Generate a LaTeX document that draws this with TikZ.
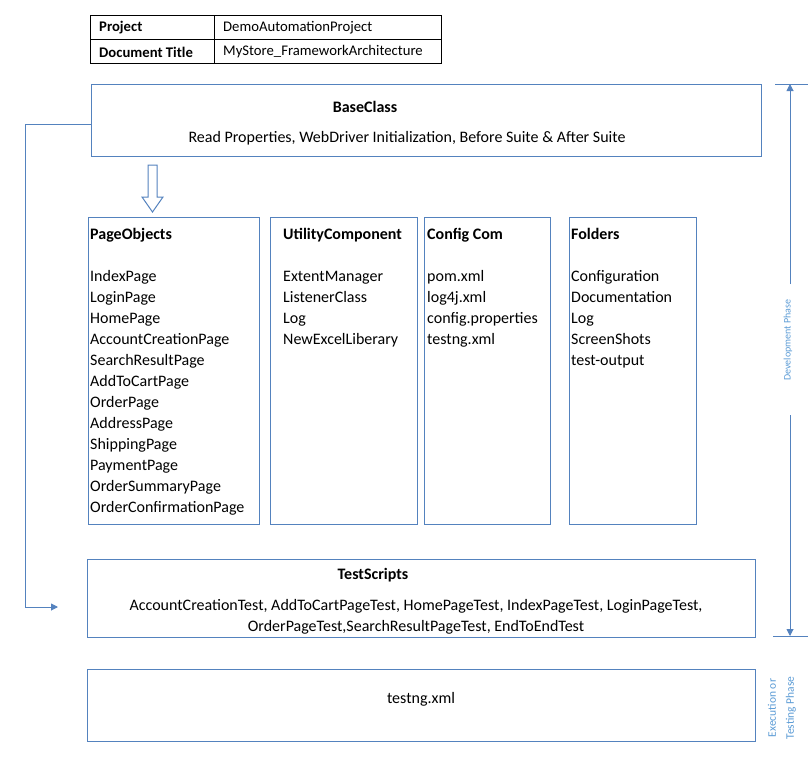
\documentclass[tikz,border=0pt]{standalone}
\usepackage{fontspec}
\setmainfont{Carlito}
\usetikzlibrary{arrows.meta}
\definecolor{boxblue}{RGB}{84,130,190}
\definecolor{phaseblue}{RGB}{91,155,213}

\begin{document}
\begin{tikzpicture}[x=1pt,y=-1pt,font=\fontsize{16}{21}\selectfont,
	cell/.style={anchor=west,inner sep=0pt,font=\fontsize{14.7}{18}\selectfont},
	box/.style={draw=boxblue,line width=1.1pt,inner sep=0pt,anchor=north west},
	list/.style={align=left,inner sep=0pt,anchor=north west},
	phase/.style={text=phaseblue,rotate=90,inner sep=0pt,font=\fontsize{10}{18}\selectfont,align=center},
	link/.style={draw=boxblue,line width=1pt,-{Triangle[length=7pt,width=7pt]}}]
\useasboundingbox (0,0) rectangle (808,760);
\draw[line width=1pt] (90,16) rectangle (441,64) (90,40) -- (441,40) (214,16) -- (214,64);
\node[cell] (projkey) at (99,28) {\textbf{Project}};
\node[cell] (projval) at (223,28) {DemoAutomationProject};
\node[cell] (titlekey) at (99,52) {\textbf{Document Title}};
\node[cell] (titleval) at (223,52) {MyStore\_FrameworkArchitecture};
\node[box,minimum width=670pt,minimum height=72pt] (base) at (91,84) {};
\node (basename) at (365,107) {\textbf{BaseClass}};
\node (basetext) at (407,138) {Read Properties, WebDriver Initialization, Before Suite \& After Suite};
\draw[boxblue,line width=1pt,fill=white] (148,165) -- (157,165) -- (157,197) -- (163,197) -- (152.5,212) -- (142,197) -- (148,197) -- cycle;
\foreach \nm/\x/\w in {pages/88/171pt,utils/270/147pt,config/424/126pt,folders/569/127pt}{
	\node[box,minimum width=\w,minimum height=307pt] (\nm) at (\x,217) {};
}
\node[list] (pagelist) at (90,228) {\textbf{PageObjects}\\[21pt] IndexPage\\ LoginPage\\ HomePage\\ AccountCreationPage\\ SearchResultPage\\ AddToCartPage\\ OrderPage\\ AddressPage\\ ShippingPage\\ PaymentPage\\ OrderSummaryPage\\ OrderConfirmationPage};
\node[list] (utillist) at (283,228) {\textbf{UtilityComponent}\\[21pt] ExtentManager\\ ListenerClass\\ Log\\ NewExcelLiberary};
\node[list] (configlist) at (427,228) {\textbf{Config Com}\\[21pt] pom.xml\\ log4j.xml\\ config.properties\\ testng.xml};
\node[list] (folderlist) at (571,228) {\textbf{Folders}\\[21pt] Configuration\\ Documentation\\ Log\\ ScreenShots\\ test-output};
\node[box,minimum width=668pt,minimum height=78pt] (tests) at (87,559) {};
\node (testsname) at (373,575) {\textbf{TestScripts}};
\node[align=center] (testslist) at (416,617) {AccountCreationTest, AddToCartPageTest, HomePageTest, IndexPageTest, LoginPageTest,\\ OrderPageTest,SearchResultPageTest, EndToEndTest};
\node[box,minimum width=668pt,minimum height=72pt] (run) at (87,669) {};
\node (runtext) at (421,699) {testng.xml};
\coordinate (tsin) at (58,607);
\draw[link] ([yshift=-4pt]base.west) -- ++(-66,0) |- (tsin);
\draw[boxblue,line width=1pt] (775,84) -- (808,84) (773,636) -- (808,636);
\coordinate (devtop) at (790,84);
\coordinate (devbot) at (790,636);
\coordinate (devgapA) at (790,284);
\coordinate (devgapB) at (790,415);
\draw[link] (devgapA) -- (devtop);
\draw[link] (devgapB) -- (devbot);
\node[phase] (dev) at (788,340) {Development Phase};
\node[phase,font=\fontsize{11.5}{18}\selectfont] (exec) at (782,708) {Execution or\\ Testing Phase};
\end{tikzpicture}
\end{document}
